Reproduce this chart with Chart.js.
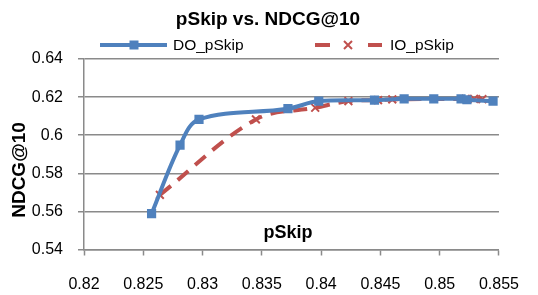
<!DOCTYPE html>
<html>
<head>
<meta charset="utf-8">
<script src="https://cdn.jsdelivr.net/npm/chart.js@4/dist/chart.umd.min.js"></script>
<style>
html,body{margin:0;padding:0;background:#fff;}
#wrap{width:538px;height:295px;position:relative;}
</style>
</head>
<body>
<div id="wrap"><canvas id="c" width="538" height="295"></canvas></div>
<script>
// ---- data ----
const chartTitle = "pSkip vs. NDCG@10";
const xTitle = "pSkip";
const yTitle = "NDCG@10";
const seriesNames = ["DO_pSkip", "IO_pSkip"];
const doX = [0.8257, 0.8281, 0.8297, 0.8372, 0.8398, 0.8445, 0.8470, 0.8495, 0.8518, 0.8523, 0.8545];
const doY = [0.5588, 0.5948, 0.6083, 0.6139, 0.6179, 0.6184, 0.6191, 0.6191, 0.6191, 0.6186, 0.6179];
const ioX = [0.8264, 0.8345, 0.8395, 0.8423, 0.8448, 0.8460, 0.8522, 0.8529, 0.8536];
const ioY = [0.5687, 0.6083, 0.6144, 0.6179, 0.6184, 0.6188, 0.6191, 0.6191, 0.6189];
const xTicks = [0.82, 0.825, 0.83, 0.835, 0.84, 0.845, 0.85, 0.855];
const yTicks = [0.54, 0.56, 0.58, 0.6, 0.62, 0.64];

const BLUE = "#4F81BD", RED = "#C0504D", GRID = "#8a8a8a";
const FONT = "'Liberation Sans', Arial, sans-serif";

const toPts = (xs, ys) => xs.map((x, i) => ({x: x, y: ys[i]}));

const overlay = {
  id: "overlay",
  afterDraw(chart) {
    const ctx = chart.ctx, ca = chart.chartArea;
    ctx.save();
    ctx.fillStyle = "#000";
    ctx.textBaseline = "middle";
    // title
    ctx.font = "bold 19px " + FONT;
    ctx.textAlign = "center";
    ctx.fillText(chartTitle, 268, 20);
    // legend
    const ly = 45;
    ctx.lineCap = "butt";
    ctx.strokeStyle = BLUE; ctx.lineWidth = 4; ctx.setLineDash([]);
    ctx.beginPath(); ctx.moveTo(100, ly); ctx.lineTo(167, ly); ctx.stroke();
    ctx.fillStyle = BLUE; ctx.fillRect(134 - 4.5, ly - 4.5, 9, 9);
    ctx.strokeStyle = RED; ctx.lineWidth = 4; ctx.setLineDash([15, 38]);
    ctx.beginPath(); ctx.moveTo(315, ly); ctx.lineTo(382, ly); ctx.stroke();
    ctx.setLineDash([]); ctx.lineWidth = 2;
    ctx.beginPath();
    ctx.moveTo(348 - 4, ly - 4); ctx.lineTo(348 + 4, ly + 4);
    ctx.moveTo(348 + 4, ly - 4); ctx.lineTo(348 - 4, ly + 4);
    ctx.stroke();
    ctx.fillStyle = "#000";
    ctx.font = "15.5px " + FONT;
    ctx.textAlign = "left";
    ctx.fillText(seriesNames[0], 173, ly + 1);
    ctx.fillText(seriesNames[1], 390, ly + 1);
    // x axis title (inside plot, Excel-style)
    ctx.font = "bold 18px " + FONT;
    ctx.textAlign = "center";
    ctx.fillText(xTitle, 288, ca.bottom - 16);
    // y axis title
    ctx.font = "bold 19px " + FONT;
    ctx.translate(20, 170);
    ctx.rotate(-Math.PI / 2);
    ctx.fillText(yTitle, 0, 0);
    ctx.restore();
  }
};

new Chart(document.getElementById("c"), {
  type: "line",
  data: {
    datasets: [
      {
        label: seriesNames[0],
        data: toPts(doX, doY),
        borderColor: BLUE, backgroundColor: BLUE,
        borderWidth: 4, tension: 0.35,
        pointStyle: "rect", pointRadius: 6.5, pointBorderWidth: 0,
        pointBackgroundColor: BLUE, pointBorderColor: BLUE
      },
      {
        label: seriesNames[1],
        data: toPts(ioX, ioY),
        borderColor: RED, backgroundColor: RED,
        borderWidth: 4, borderDash: [14, 9], tension: 0.35,
        pointStyle: "crossRot", pointRadius: 5.5, pointBorderWidth: 2,
        pointBackgroundColor: RED, pointBorderColor: RED
      }
    ]
  },
  options: {
    responsive: false,
    animation: false,
    devicePixelRatio: 1,
    layout: {padding: {left: 0, right: 36, top: 59, bottom: 0}},
    plugins: {legend: {display: false}, title: {display: false}, tooltip: {enabled: false}},
    scales: {
      x: {
        type: "linear", min: xTicks[0], max: xTicks[xTicks.length - 1],
        afterBuildTicks(s) { s.ticks = xTicks.map(v => ({value: v})); },
        afterFit(s) { s.height = 45.5; },
        ticks: {
          padding: 19, color: "#000", maxRotation: 0, autoSkip: false,
          font: {family: FONT, size: 16},
          callback: v => String(Number(v.toFixed(3)))
        },
        grid: {
          drawOnChartArea: false, drawTicks: true, tickLength: 6,
          tickColor: GRID, tickWidth: 1.5
        },
        border: {display: true, color: GRID, width: 1.5}
      },
      y: {
        type: "linear", min: yTicks[0], max: yTicks[yTicks.length - 1],
        afterBuildTicks(s) { s.ticks = yTicks.map(v => ({value: v})); },
        afterFit(s) { s.width = 84; },
        ticks: {
          padding: 15, color: "#000",
          font: {family: FONT, size: 16},
          callback: v => String(Number(v.toFixed(2)))
        },
        grid: {
          color: GRID, lineWidth: 1.5, borderDash: [7, 4],
          drawTicks: true, tickLength: 6, tickColor: GRID, tickWidth: 1.5, tickBorderDash: []
        },
        border: {display: true, color: GRID, width: 1.5}
      }
    }
  },
  plugins: [overlay]
});
</script>
</body>
</html>
